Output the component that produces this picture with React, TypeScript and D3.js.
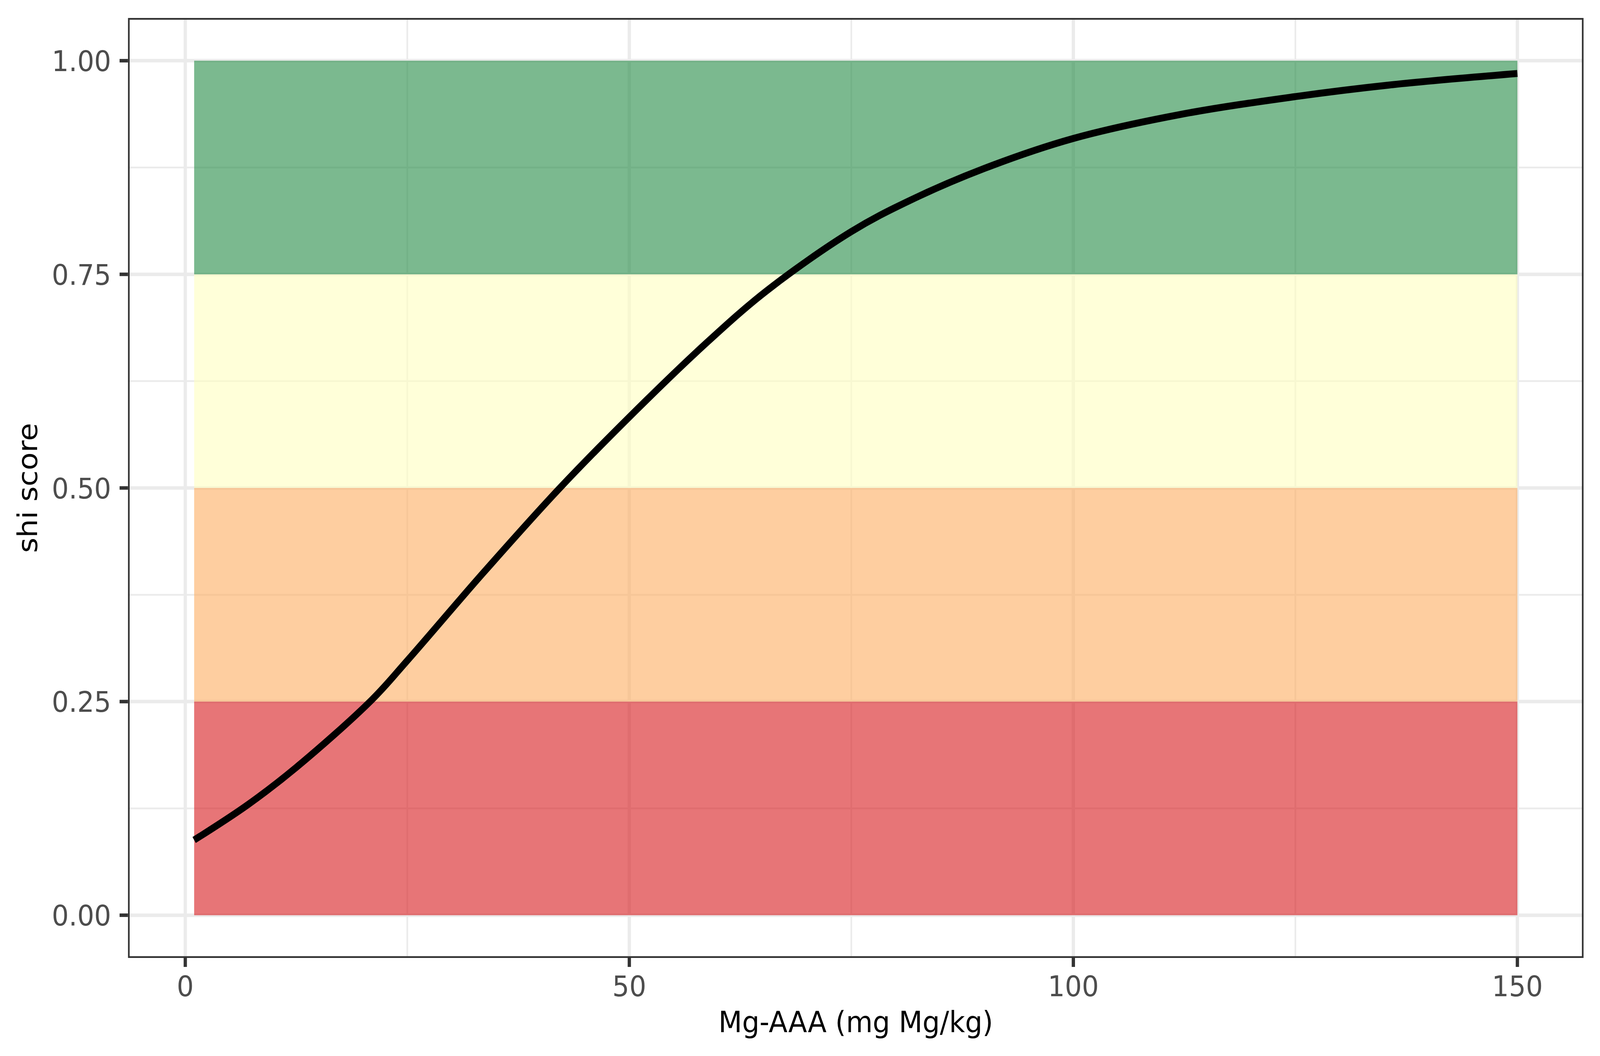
import React from 'react';
import * as d3 from 'd3';

// curve
const mgValues = [1, 7, 12.5, 21, 25, 33.5, 42, 50, 58.5, 65.5, 75, 81.5, 90, 100, 112, 125, 136, 150];
const shiValues = [0.088, 0.129, 0.173, 0.252, 0.298, 0.4, 0.498, 0.583, 0.668, 0.731, 0.8, 0.836, 0.874, 0.909, 0.937, 0.958, 0.972, 0.985];

// score bands
const bandLow = [0, 0.25, 0.5, 0.75];
const bandHigh = [0.25, 0.5, 0.75, 1];
const bandColors = ['#d7191c', '#fdae61', '#ffffbf', '#238b45'];
const bandFrom = 1;
const bandTo = 150;

const xTicks = [0, 50, 100, 150];
const xMinor = [25, 75, 125];
const yTicks = [0, 0.25, 0.5, 0.75, 1];
const yMinor = [0.125, 0.375, 0.625, 0.875];
const yTickLabels = ['0.00', '0.25', '0.50', '0.75', '1.00'];

const W = 4375;
const H = 2703;
const panel = { left: 350, right: 4330, top: 46, bottom: 2452 };
const font = '"DejaVu Sans", Verdana, sans-serif';

export default () => {
  const xPad = (bandTo - bandFrom) * 0.05;
  const x = d3.scaleLinear()
    .domain([bandFrom - xPad, bandTo + xPad])
    .range([panel.left, panel.right]);
  const y = d3.scaleLinear()
    .domain([-0.05, 1.05])
    .range([panel.bottom, panel.top]);

  const line = d3.line<number>()
    .x((d, i) => x(mgValues[i]))
    .y(d => y(d))
    .curve(d3.curveCatmullRom.alpha(0.5));

  const pw = panel.right - panel.left;
  const ph = panel.bottom - panel.top;

  // the window is narrower than the picture, so the svg fills the viewport
  return (
    <svg
      viewBox={`0 0 ${W} ${H}`}
      preserveAspectRatio="none"
      style={{ position: 'fixed', left: 0, top: 0, width: '100vw', height: '100vh', background: '#fff', display: 'block' }}
    >
      <rect x={0} y={0} width={W} height={H} fill="#fff" />
      {/* grid */}
      {xMinor.map(v => (
        <line key={'xm' + v} x1={x(v)} x2={x(v)} y1={panel.top} y2={panel.bottom} stroke="#ebebeb" strokeWidth={4.5} />
      ))}
      {yMinor.map(v => (
        <line key={'ym' + v} x1={panel.left} x2={panel.right} y1={y(v)} y2={y(v)} stroke="#ebebeb" strokeWidth={4.5} />
      ))}
      {xTicks.map(v => (
        <line key={'xg' + v} x1={x(v)} x2={x(v)} y1={panel.top} y2={panel.bottom} stroke="#ebebeb" strokeWidth={9} />
      ))}
      {yTicks.map(v => (
        <line key={'yg' + v} x1={panel.left} x2={panel.right} y1={y(v)} y2={y(v)} stroke="#ebebeb" strokeWidth={9} />
      ))}

      {/* bands */}
      {bandLow.map((lo, i) => (
        <rect
          key={'b' + i}
          x={x(bandFrom)}
          width={x(bandTo) - x(bandFrom)}
          y={y(bandHigh[i])}
          height={y(lo) - y(bandHigh[i])}
          fill={bandColors[i]}
          fillOpacity={0.6}
        />
      ))}

      <path d={line(shiValues) || ''} fill="none" stroke="#000" strokeWidth={17.8} strokeLinejoin="round" />

      {/* border */}
      <rect x={panel.left + 2.25} y={panel.top + 2.25} width={pw - 4.5} height={ph - 4.5} fill="none" stroke="#333333" strokeWidth={4.5} />

      {/* axes */}
      {xTicks.map(v => (
        <g key={'xt' + v}>
          <line x1={x(v)} x2={x(v)} y1={panel.bottom} y2={panel.bottom + 23} stroke="#333333" strokeWidth={9} />
          <text x={x(v)} y={2550} textAnchor="middle" fontFamily={font} fontSize={73} fill="#4d4d4d">{v}</text>
        </g>
      ))}
      {yTicks.map((v, i) => (
        <g key={'yt' + v}>
          <line x1={panel.left - 23} x2={panel.left} y1={y(v)} y2={y(v)} stroke="#333333" strokeWidth={9} />
          <text x={304} y={y(v) + 73 * 0.365} textAnchor="end" fontFamily={font} fontSize={73} fill="#4d4d4d">{yTickLabels[i]}</text>
        </g>
      ))}
      <text x={(panel.left + panel.right) / 2} y={2642} textAnchor="middle" fontFamily={font} fontSize={75} fill="#000">Mg-AAA (mg Mg/kg)</text>
      <text transform={`translate(102, ${(panel.top + panel.bottom) / 2}) rotate(-90)`} textAnchor="middle" fontFamily={font} fontSize={75} fill="#000">shi score</text>
    </svg>
  );
};
